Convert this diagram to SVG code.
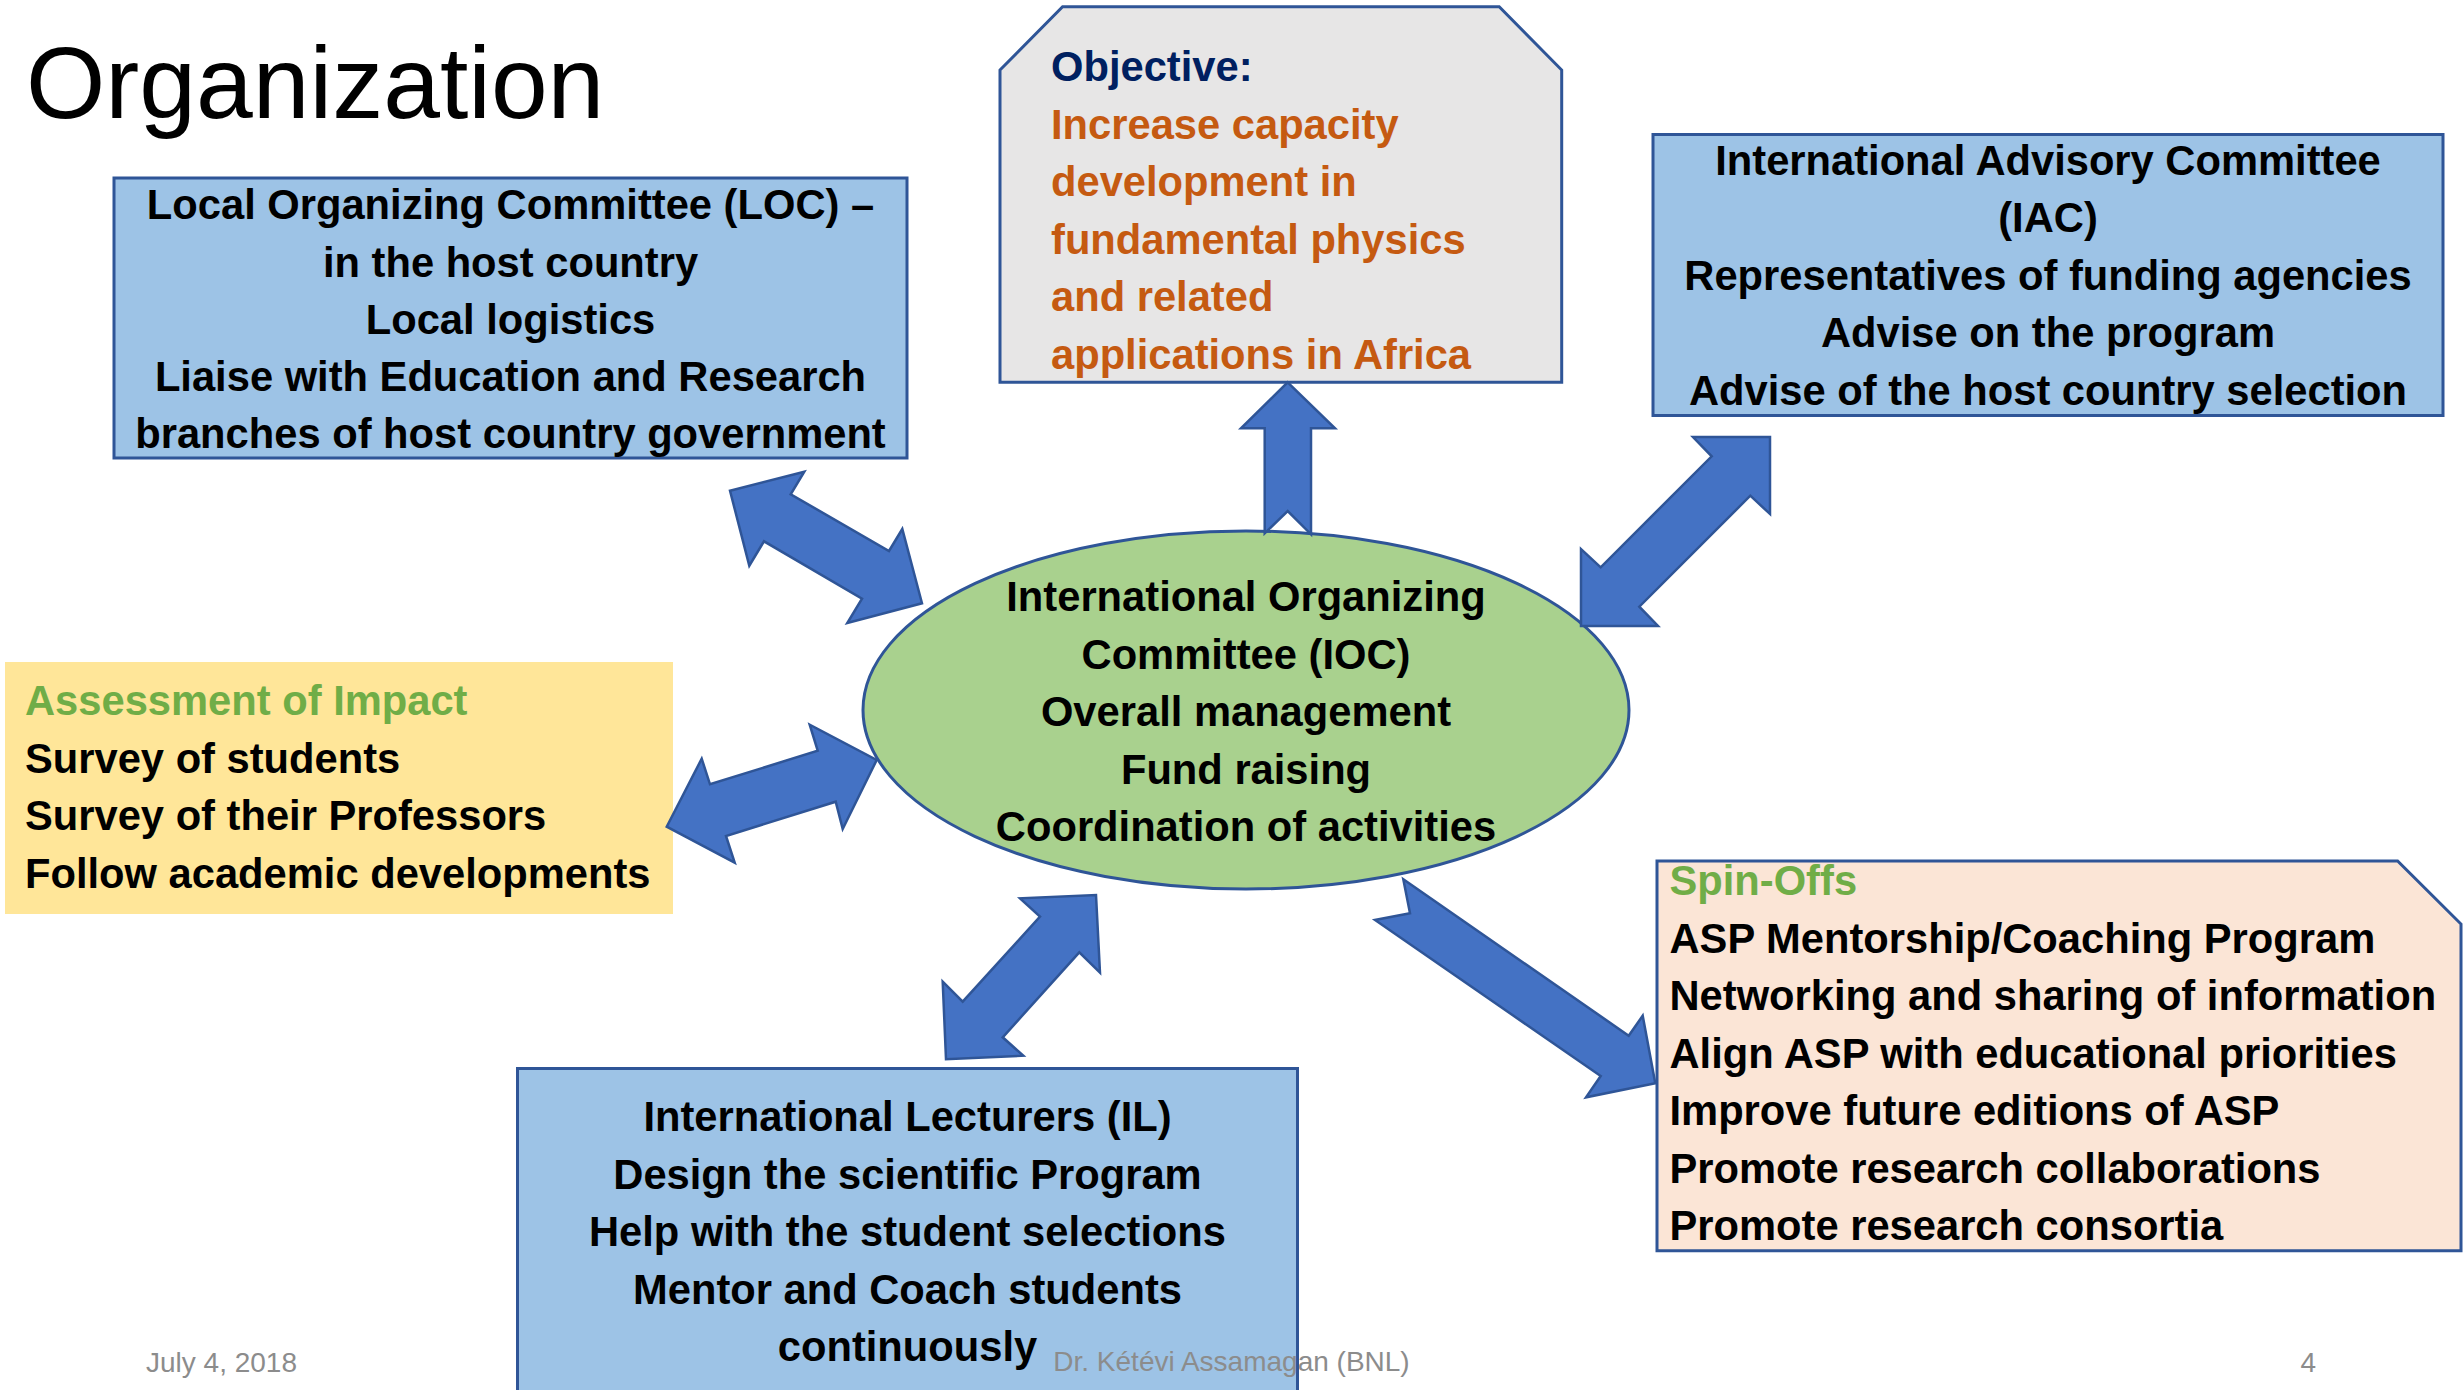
<svg xmlns="http://www.w3.org/2000/svg" width="2463" height="1390" viewBox="0 0 2463 1390">
<style>
.t{font-family:"Liberation Sans",Arial,sans-serif;font-weight:bold;font-size:41.7px;fill:#000}
.c{text-anchor:middle}
.g{fill:#70ad47}
.o{fill:#c55a11}
.box{fill:#9dc3e6;stroke:#2f5597;stroke-width:3}
.arrow{fill:#4472c4;stroke:#2f5597;stroke-width:2.5;stroke-linejoin:miter}
.foot{font-family:"Liberation Sans",Arial,sans-serif;font-size:28px;fill:#8c8c8c}
</style>
<rect x="0" y="0" width="2463" height="1390" fill="#ffffff"/>
<text x="26" y="118" font-family="Liberation Sans, Arial, sans-serif" font-size="102" fill="#000">Organization</text>

<g id="loc">
<rect class="box" x="114" y="178" width="793" height="280"/>
<text class="t c" x="510.5" y="219">Local Organizing Committee (LOC) –</text>
<text class="t c" x="510.5" y="276.5">in the host country</text>
<text class="t c" x="510.5" y="334">Local logistics</text>
<text class="t c" x="510.5" y="391">Liaise with Education and Research</text>
<text class="t c" x="510.5" y="448">branches of host country government</text>
</g>

<g id="objective">
<polygon points="1000,70 1062.6,6.7 1499.2,6.7 1561.7,70 1561.7,382.3 1000,382.3" fill="#e7e6e6" stroke="#2f5597" stroke-width="3"/>
<text class="t" x="1051" y="81" style="fill:#002060">Objective:</text>
<text class="t o" x="1051" y="138.5">Increase capacity</text>
<text class="t o" x="1051" y="196">development in</text>
<text class="t o" x="1051" y="253.5">fundamental physics</text>
<text class="t o" x="1051" y="311">and related</text>
<text class="t o" x="1051" y="368.5">applications in Africa</text>
</g>

<g id="iac">
<rect class="box" x="1653" y="134.5" width="790" height="281"/>
<text class="t c" x="2048" y="175">International Advisory Committee</text>
<text class="t c" x="2048" y="232">(IAC)</text>
<text class="t c" x="2048" y="289.5">Representatives of funding agencies</text>
<text class="t c" x="2048" y="347">Advise on the program</text>
<text class="t c" x="2048" y="404.5">Advise of the host country selection</text>
</g>

<g id="assessment">
<rect x="5" y="662" width="668" height="252" fill="#ffe699"/>
<text class="t g" x="25" y="715">Assessment of Impact</text>
<text class="t" x="25" y="772.5">Survey of students</text>
<text class="t" x="25" y="830">Survey of their Professors</text>
<text class="t" x="25" y="887.5">Follow academic developments</text>
</g>

<g id="ioc">
<ellipse cx="1246" cy="710" rx="383" ry="179" fill="#a9d18e" stroke="#2f5597" stroke-width="3"/>
<text class="t c" x="1246" y="611">International Organizing</text>
<text class="t c" x="1246" y="668.5">Committee (IOC)</text>
<text class="t c" x="1246" y="726">Overall management</text>
<text class="t c" x="1246" y="783.5">Fund raising</text>
<text class="t c" x="1246" y="841">Coordination of activities</text>
</g>

<g id="spinoffs">
<polygon points="1657,861 2397.6,861 2461,924 2461,1250.7 1657,1250.7" fill="#fbe5d6" stroke="#2f5597" stroke-width="3"/>
<text class="t g" x="1669.5" y="895">Spin-Offs</text>
<text class="t" x="1669.5" y="952.5">ASP Mentorship/Coaching Program</text>
<text class="t" x="1669.5" y="1010">Networking and sharing of information</text>
<text class="t" x="1669.5" y="1067.5">Align ASP with educational priorities</text>
<text class="t" x="1669.5" y="1125">Improve future editions of ASP</text>
<text class="t" x="1669.5" y="1182.5">Promote research collaborations</text>
<text class="t" x="1669.5" y="1240">Promote research consortia</text>
</g>

<g id="il">
<rect class="box" x="517.5" y="1068.5" width="780" height="340"/>
<text class="t c" x="907.5" y="1131">International Lecturers (IL)</text>
<text class="t c" x="907.5" y="1188.5">Design the scientific Program</text>
<text class="t c" x="907.5" y="1246">Help with the student selections</text>
<text class="t c" x="907.5" y="1303.5">Mentor and Coach students</text>
<text class="t c" x="907.5" y="1361">continuously</text>
</g>

<g id="connectors">
<polygon class="arrow" points="730,490.7 804.3,471.7 790.7,494.3 889,551 902.3,529 922,603.3 847.3,623 862,598.7 764,541.3 749.3,565.7"/>
<polygon class="arrow" points="1287.7,382.3 1335,428.3 1311,428.3 1311,534.3 1287.7,511 1264.7,533.3 1264.7,428.3 1241,428.3"/>
<polygon class="arrow" points="1581,626 1581,549 1600.7,567.3 1711.7,456.3 1693,437 1770,437 1770,514 1750.3,495.7 1639.3,606.7 1658,626"/>
<polygon class="arrow" points="666.7,826.7 701.7,758.7 710,784.3 817.7,750.7 809.7,724.7 876.7,760 842.7,829 835.7,801.7 726,836 734.7,862.7"/>
<polygon class="arrow" points="946,1059.3 942.7,981.7 962.7,1001.7 1040,916.7 1020,898.3 1096,895 1100,972.7 1079.3,952.3 1002.7,1037.3 1023.3,1055.7"/>
<polygon class="arrow" points="1403.3,879.3 1628.7,1035.7 1642.7,1015.7 1655.3,1083.3 1586,1097.3 1600.7,1076 1375,920 1410,913.3"/>
</g>

<g id="footer">
<text class="foot" x="146" y="1372">July 4, 2018</text>
<text class="foot" x="1231.5" y="1371" text-anchor="middle">Dr. Kétévi Assamagan (BNL)</text>
<text class="foot" x="2316" y="1372" text-anchor="end">4</text>
</g>
</svg>
